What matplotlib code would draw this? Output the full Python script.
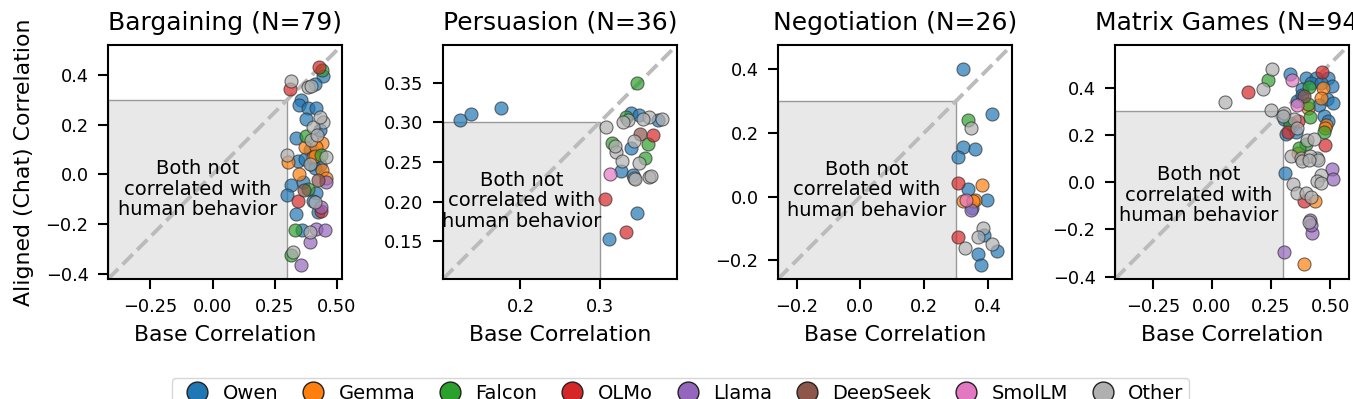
import matplotlib
matplotlib.use("Agg")
import matplotlib.pyplot as plt
from matplotlib.lines import Line2D
from matplotlib.patches import Rectangle


FAMILIES = ["Qwen", "Gemma", "Falcon", "OLMo", "Llama", "DeepSeek", "SmolLM", "Other"]
COLORS = {
    "Qwen": "#1f77b4",
    "Gemma": "#ff7f0e",
    "Falcon": "#2ca02c",
    "OLMo": "#d62728",
    "Llama": "#9467bd",
    "DeepSeek": "#8c564b",
    "SmolLM": "#e377c2",
    "Other": "#b0b0b0",
}

TITLES = ["Bargaining (N=79)", "Persuasion (N=36)", "Negotiation (N=26)", "Matrix Games (N=94)"]

# (base, aligned) pairs per family
bargaining = {
    "Other": [(0.314, 0.375), (0.383, 0.351), (0.397, 0.354), (0.443, 0.210), (0.403, 0.190),
              (0.397, 0.137), (0.299, 0.080), (0.457, 0.070), (0.390, 0.040), (0.410, -0.110),
              (0.390, -0.232), (0.323, -0.312), (0.420, 0.160), (0.430, 0.230)],
    "Qwen": [(0.443, 0.394), (0.410, 0.365), (0.357, 0.300), (0.347, 0.277), (0.383, 0.267),
             (0.417, 0.268), (0.374, 0.224), (0.433, 0.180), (0.334, 0.145), (0.390, 0.097),
             (0.343, 0.056), (0.370, 0.063), (0.430, 0.036), (0.317, -0.044), (0.363, -0.031),
             (0.299, -0.084), (0.417, -0.075), (0.403, -0.105), (0.423, -0.151), (0.334, -0.158),
             (0.361, -0.225), (0.397, 0.040), (0.410, 0.025)],
    "Gemma": [(0.441, 0.126), (0.370, 0.110), (0.417, 0.110), (0.303, 0.050), (0.403, 0.070),
              (0.410, 0.076), (0.347, 0.003), (0.441, 0.016), (0.454, -0.013)],
    "Falcon": [(0.441, 0.418), (0.374, 0.153), (0.437, 0.080), (0.383, -0.058), (0.330, -0.225),
               (0.314, -0.322)],
    "OLMo": [(0.427, 0.432), (0.312, 0.344), (0.343, -0.107), (0.437, -0.145)],
    "Llama": [(0.454, -0.031), (0.437, -0.129), (0.417, -0.218), (0.450, -0.225), (0.390, -0.272),
              (0.357, -0.362)],
    "DeepSeek": [(0.423, -0.024), (0.366, -0.064)],
}

persuasion = {
    "Other": [(0.308, 0.294), (0.336, 0.303), (0.362, 0.307), (0.379, 0.305), (0.344, 0.276),
              (0.321, 0.263), (0.329, 0.251), (0.350, 0.249), (0.344, 0.230), (0.363, 0.231),
              (0.365, 0.232), (0.330, 0.300), (0.355, 0.305), (0.345, 0.228), (0.320, 0.270)],
    "Qwen": [(0.124, 0.303), (0.138, 0.311), (0.175, 0.318), (0.340, 0.312), (0.350, 0.309),
             (0.374, 0.303), (0.340, 0.268), (0.327, 0.238), (0.342, 0.233), (0.348, 0.185),
             (0.312, 0.153)],
    "Falcon": [(0.347, 0.350), (0.333, 0.307), (0.316, 0.274), (0.361, 0.273), (0.357, 0.255)],
    "OLMo": [(0.368, 0.284), (0.307, 0.203), (0.334, 0.162)],
    "DeepSeek": [(0.351, 0.285)],
    "SmolLM": [(0.313, 0.235)],
}

negotiation = {
    "Other": [(0.348, 0.215), (0.383, -0.098), (0.367, -0.126), (0.328, -0.160), (0.411, -0.147)],
    "Qwen": [(0.320, 0.401), (0.411, 0.259), (0.323, 0.157), (0.359, 0.149), (0.307, 0.123),
             (0.338, 0.024), (0.396, -0.009), (0.351, -0.035), (0.386, -0.121), (0.427, -0.171),
             (0.367, -0.179), (0.378, -0.213)],
    "Gemma": [(0.380, 0.036), (0.323, -0.014), (0.359, -0.012), (0.352, -0.015)],
    "Falcon": [(0.338, 0.241)],
    "OLMo": [(0.305, 0.042), (0.305, -0.126)],
    "Llama": [(0.346, -0.042)],
    "SmolLM": [(0.331, -0.012)],
}

matrix_games = {
    "Other": [(0.256, 0.477), (0.218, 0.395), (0.055, 0.340), (0.249, 0.307), (0.305, 0.293),
              (0.347, 0.265), (0.362, 0.229), (0.404, 0.180), (0.432, 0.183), (0.446, 0.102),
              (0.333, 0.109), (0.376, 0.102), (0.415, 0.109), (0.449, 0.095), (0.383, 0.088),
              (0.411, 0.095), (0.460, 0.031), (0.446, 0.003), (0.460, -0.004), (0.341, -0.007),
              (0.362, -0.047), (0.397, -0.047), (0.418, -0.061), (0.411, -0.170), (0.300, 0.280)],
    "Qwen": [(0.331, 0.456), (0.397, 0.442), (0.439, 0.439), (0.491, 0.442), (0.510, 0.406),
             (0.383, 0.392), (0.362, 0.342), (0.488, 0.350), (0.514, 0.336), (0.453, 0.328),
             (0.305, 0.265), (0.474, 0.279), (0.312, 0.203), (0.355, 0.212), (0.308, 0.038),
             (0.420, 0.420), (0.460, 0.420), (0.380, 0.370), (0.490, 0.260), (0.340, 0.240)],
    "Gemma": [(0.471, 0.399), (0.460, 0.357), (0.406, 0.312), (0.481, 0.243), (0.364, 0.123),
              (0.435, -0.082), (0.390, -0.347), (0.480, 0.230)],
    "Falcon": [(0.238, 0.432), (0.411, 0.402), (0.406, 0.331), (0.331, 0.251), (0.415, 0.274),
               (0.474, 0.212), (0.397, 0.161), (0.369, 0.144)],
    "OLMo": [(0.153, 0.382), (0.464, 0.467), (0.364, 0.260), (0.322, 0.211), (0.477, 0.158),
             (0.390, -0.082)],
    "Llama": [(0.510, 0.055), (0.514, 0.013), (0.415, -0.160), (0.425, -0.217), (0.303, -0.297),
              (0.420, -0.180)],
    "DeepSeek": [(0.390, 0.364)],
    "SmolLM": [(0.340, 0.430), (0.359, 0.326)],
}

PANELS = [bargaining, persuasion, negotiation, matrix_games]
LIMITS = [(-0.42, 0.52), (0.102, 0.398), (-0.258, 0.475), (-0.41, 0.58)]
XTICKS = [[-0.25, 0.0, 0.25, 0.5], [0.2, 0.3], [-0.2, 0.0, 0.2, 0.4], [-0.25, 0.0, 0.25, 0.5]]
YTICKS = [[-0.4, -0.2, 0.0, 0.2, 0.4], [0.15, 0.20, 0.25, 0.30, 0.35],
          [-0.2, 0.0, 0.2, 0.4], [-0.4, -0.2, 0.0, 0.2, 0.4]]
THRESHOLD = 0.3

W, H = 1353, 399
LEFTS = [108, 443, 778, 1115]
AX_W, AX_TOP, AX_BOTTOM = 234, 45, 279

fig = plt.figure(figsize=(W / 100, H / 100), dpi=100)

for i, data in enumerate(PANELS):
    ax = fig.add_axes([LEFTS[i] / W, 1 - AX_BOTTOM / H, AX_W / W, (AX_BOTTOM - AX_TOP) / H])
    lo, hi = LIMITS[i]

    # "both not correlated" square + y = x reference line
    ax.add_patch(Rectangle((lo, lo), THRESHOLD - lo, THRESHOLD - lo,
                           facecolor="#e8e8e8", edgecolor="#999999", linewidth=1.0, zorder=0))
    ax.plot([lo, hi], [lo, hi], linestyle="--", color="#bbbbbb", linewidth=2.8, zorder=1)
    ax.text((lo + THRESHOLD) / 2, (lo + THRESHOLD) / 2,
            "Both not\ncorrelated with\nhuman behavior",
            ha="center", va="center", fontsize=14, linespacing=1.1, zorder=2, clip_on=True)

    for fam in FAMILIES:
        if fam not in data:
            continue
        xs = [p[0] for p in data[fam]]
        ys = [p[1] for p in data[fam]]
        ax.scatter(xs, ys, s=88, color=COLORS[fam], alpha=0.7,
                   edgecolors="#333333", linewidths=0.8, zorder=3)

    ax.set_xlim(lo, hi)
    ax.set_ylim(lo, hi)
    ax.set_xticks(XTICKS[i])
    ax.set_yticks(YTICKS[i])
    ax.tick_params(labelsize=12.8, length=7, width=1.5, pad=7)
    for sp in ax.spines.values():
        sp.set_linewidth(1.5)
    ax.set_title(TITLES[i], fontsize=18, pad=11)
    ax.set_xlabel("Base Correlation", fontsize=15.8, labelpad=6)
    if i == 0:
        ax.set_ylabel("Aligned (Chat) Correlation", fontsize=15.8, labelpad=8)

handles = [Line2D([0], [0], marker="o", linestyle="none", markersize=15,
                  markerfacecolor=COLORS[f], markeredgecolor="#222222", markeredgewidth=1.0)
           for f in FAMILIES]
fig.legend(handles, FAMILIES, loc="upper center", bbox_to_anchor=(0.503, 1 - 378 / H),
           ncol=8, fontsize=14, frameon=True, handletextpad=0.3, columnspacing=0.8,
           borderpad=0.3, borderaxespad=0, edgecolor="#cccccc")

fig.savefig("out.png", dpi=100)
